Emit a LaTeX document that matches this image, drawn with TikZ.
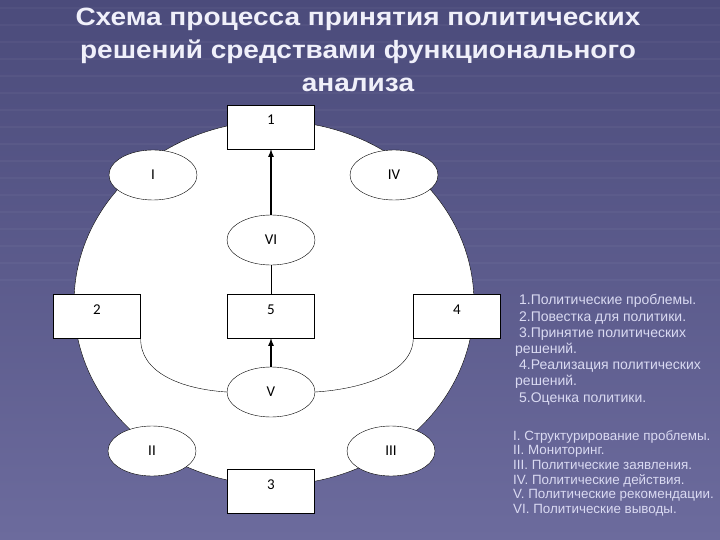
\documentclass[tikz,border=0pt]{standalone}
\usepackage{fontspec}
\setmainfont{Liberation Sans}
\newfontfamily\boxfont{Carlito}
\usetikzlibrary{shapes.geometric,positioning}
\definecolor{slidetop}{HTML}{4B4B7B}
\definecolor{slidebottom}{HTML}{6C6B9D}
\definecolor{titletext}{HTML}{F0F0FA}
\definecolor{notetext}{HTML}{DADAF2}
\newcommand{\wideline}[1]{\scalebox{1.12}[1]{#1}}
\begin{document}
\begin{tikzpicture}[x=1pt, y=-1pt,
  stage/.style = {draw, fill=white, font=\boxfont\fontsize{15}{17}\selectfont, minimum width=87pt, inner xsep=0pt, inner ysep=3pt, text height=17pt, text depth=21pt},
  func/.style = {draw, fill=white, ellipse, font=\boxfont\fontsize{15}{17}\selectfont, minimum width=88pt, minimum height=50pt, inner sep=0pt},
  note/.style = {anchor=north west, align=left, text=notetext, inner sep=0pt}]

% slide background
\shade[top color=slidetop, bottom color=slidebottom] (0,0) rectangle (720,540);
\useasboundingbox (0,0) rectangle (720,540);
\clip (0,0) rectangle (720,540);
\foreach \y in {8,25,...,280}
  \draw[white, opacity=0.035, line width=1.5pt] (0,\y) -- (720,\y);

\node[text=titletext, font=\bfseries\fontsize{25}{33}\selectfont, align=center] (title) at (358,49.5) {\wideline{Схема процесса принятия политических}\\\wideline{решений средствами функционального}\\\wideline{анализа}};

% white disc
\draw[fill=white] (274,303) ellipse [x radius=200pt, y radius=182pt];

\node[stage] (1) at (271,127) {1};
\node[func] (VI) [node distance=113pt, below of=1] {VI};
\node[stage] (5) [node distance=76pt, below of=VI] {5};
\node[func] (V) [node distance=76pt, below of=5] {V};
\node[stage] (3) [node distance=99pt, below of=V] {3};
\node[stage] (2) [node distance=174pt, left of=5] {2};
\node[stage] (4) [node distance=186pt, right of=5] {4};

\node[func] (I) at (153,175) {I};
\node[func] (IV) at (394,175) {IV};
\node[func] (II) at (152,451) {II};
\node[func] (III) at (391,451) {III};

\draw[line width=1.6pt, -latex] (VI) -- (1);
\draw (VI) -- (5);
\draw[line width=1.6pt, -latex] (V) -- (5);
\draw (2.south east) .. controls (140,372) and (180,389) .. (V.west);
\draw (4.south west) .. controls (413,372) and (364,389) .. (V.east);

% legend
\node[note, font=\fontsize{14}{16.2}\selectfont] (stages) at (515,294.5) {\ 1.Политические проблемы.\\\ 2.Повестка для политики.\\\ 3.Принятие политических\\решений.\\\ 4.Реализация политических\\решений.\\\ 5.Оценка политики.};
\node[note, font=\fontsize{13.4}{14.7}\selectfont] (functions) at (513,430) {I. Структурирование проблемы.\\II. Мониторинг.\\III. Политические заявления.\\IV. Политические действия.\\V. Политические рекомендации.\\VI. Политические выводы.};

\end{tikzpicture}
\end{document}
